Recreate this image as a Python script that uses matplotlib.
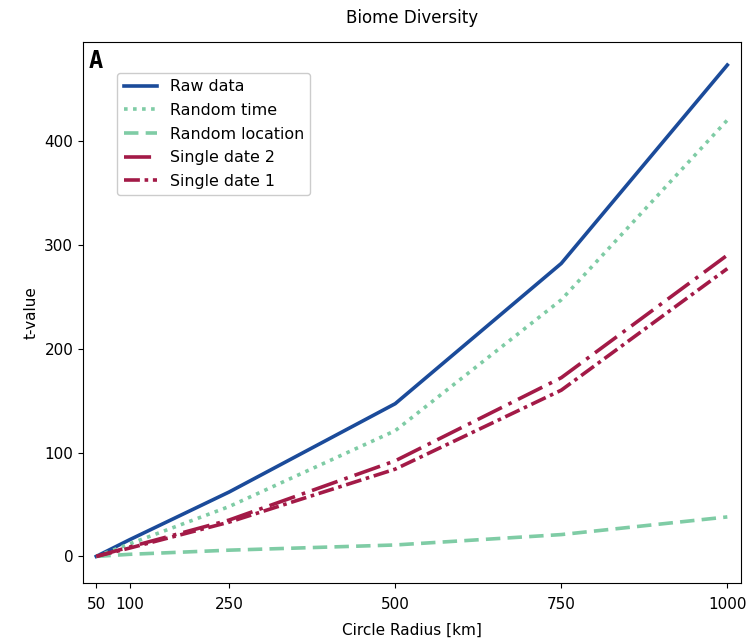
import matplotlib
matplotlib.use('Agg')
import matplotlib.pyplot as plt

# radius values and t-values
radius = [50, 100, 250, 500, 750, 1000]
raw_data = [0, 16, 62, 147, 282, 473]
random_time = [0, 12, 48, 121, 247, 420]
random_location = [0, 2, 6, 11, 21, 38]
single_date_2 = [0, 9, 35, 92, 172, 290]
single_date_1 = [0, 8, 33, 84, 160, 277]

blue = '#1b4b9a'
green = '#7fcca5'
red = '#a31a47'

plt.rcParams['font.family'] = ['DejaVu Sans']
fig, ax = plt.subplots(figsize=(7.48, 6.39), dpi=100)
fig.subplots_adjust(left=0.111, right=0.991, top=0.934, bottom=0.087)

ax.plot(radius, raw_data, color=blue, lw=2.6, label='Raw data')
ax.plot(radius, random_time, color=green, lw=2.6, ls=(0, (1, 1.5)), label='Random time')
ax.plot(radius, random_location, color=green, lw=2.6, ls=(0, (4, 2)), label='Random location')
ax.plot(radius, single_date_2, color=red, lw=2.6, ls=(0, (7.5, 2, 1, 2)), label='Single date 2')
ax.plot(radius, single_date_1, color=red, lw=2.6, ls=(0, (4.4, 1.3, 1, 1.3)), label='Single date 1')

ax.set_xticks(radius)
ax.set_xlim(30, 1021)
ax.set_ylim(-26, 495)
ax.set_yticks([0, 100, 200, 300, 400])
ax.tick_params(labelsize=11)
ax.tick_params(axis='x', pad=6.5)

ax.set_title('Biome Diversity', fontsize=12, pad=14)
ax.set_xlabel('Circle Radius [km]', fontsize=11, labelpad=7.5)
ax.set_ylabel('t-value', fontsize=11)
ax.text(0.008, 0.987, 'A', transform=ax.transAxes, fontsize=17, fontweight='bold',
        family='DejaVu Sans Mono', va='top', ha='left')

ax.legend(loc='upper left', bbox_to_anchor=(0.040, 0.958), fontsize=11.4,
          handlelength=2.1, labelspacing=0.55, framealpha=1, edgecolor='#cccccc')

plt.savefig('out.png', dpi=100)
